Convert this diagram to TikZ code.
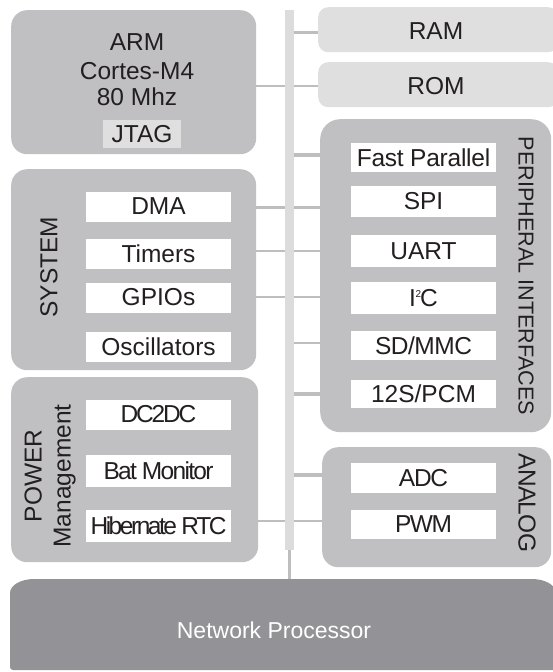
\documentclass[tikz,border=0pt]{standalone}
\usepackage{fontspec}
\setmainfont{Liberation Sans}
\begin{document}
\begin{tikzpicture}[x=1pt,y=1pt,
  txt/.style={text=textgray,font=\fontsize{24.5}{27}\selectfont,inner sep=0pt},
  group/.style={fill=groupgray,draw=none,rounded corners=16pt},
  mem/.style={fill=lightgray2,draw=none,rounded corners=10pt},
  item/.style={fill=white,draw=none,minimum width=145pt,minimum height=30pt,inner sep=0pt,text=textgray,font=\fontsize{24.5}{27}\selectfont},
  conn/.style={draw=linegray,line width=2pt},
  connthick/.style={draw=linegray,line width=3.5pt},
  vlabel/.style={text=textgray,font=\fontsize{24.5}{29}\selectfont,inner sep=0pt,align=center}]
\definecolor{textgray}{HTML}{231F20}
\definecolor{groupgray}{HTML}{C0C0C2}
\definecolor{lightgray2}{HTML}{DFDFE0}
\definecolor{linegray}{HTML}{BEBEBE}
\definecolor{busgray}{HTML}{DCDCDC}
\definecolor{netgray}{HTML}{939397}
\useasboundingbox (0,0) rectangle (553,-672);

% group containers
\node[group,anchor=north west,minimum width=245pt,minimum height=144pt] (arm) at (11,-10) {};
\node[group,anchor=north west,minimum width=245pt,minimum height=201pt] (system) at (11,-169) {};
\node[group,anchor=north west,minimum width=247pt,minimum height=185pt] (power) at (11,-377) {};
\node[mem,anchor=north west,minimum width=240pt,minimum height=45pt] (ram) at (318,-7) {};
\node[mem,anchor=north west,minimum width=240pt,minimum height=45pt] (rom) at (318,-62) {};
\node[group,rounded corners=20pt,anchor=north west,minimum width=231pt,minimum height=313pt] (periph) at (320,-119) {};
\node[group,anchor=north west,minimum width=229pt,minimum height=120pt] (analog) at (322,-447) {};

% connectors (drawn beneath the bus)
\coordinate (busbot) at (289.5,-550);
\draw[conn,line width=2.5pt] (arm.east |- 0,-86) -- (rom.west |- 0,-86);
\draw[connthick,line width=3pt] (294,-32) -- (ram.west |- 0,-32);
\draw[connthick] (294,-155) -- (periph.west |- 0,-155);
\draw[connthick,line width=3pt] (system.east |- 0,-207) -- (periph.west |- 0,-207);
\draw[conn] (system.east |- 0,-251) -- (periph.west |- 0,-251);
\draw[conn] (system.east |- 0,-297) -- (periph.west |- 0,-297);
\draw[conn] (294,-343) -- (periph.west |- 0,-343);
\draw[connthick] (294,-394) -- (periph.west |- 0,-394);
\draw[connthick] (294,-475) -- (analog.west |- 0,-475);
\draw[conn] (power.east |- 0,-521) -- (analog.west |- 0,-521);

% bus
\node[fill=busgray,draw=none,anchor=north west,minimum width=9pt,minimum height=540pt,inner sep=0pt] (bus) at (285,-10) {};

% network processor
\fill[netgray] (10,-667) -- (10,-593) arc[start angle=180,end angle=90,x radius=24,y radius=14]
  -- (532,-579) arc[start angle=90,end angle=0,x radius=24,y radius=14] -- (556,-670) -- (13,-670)
  arc[start angle=270,end angle=180,radius=3] -- cycle;
\coordinate (nettop) at (289.5,-579);
\draw[conn,line width=2.5pt] (busbot) -- (nettop);
\node[txt,text=white,font=\fontsize{23}{27}\selectfont] (net) at (274,-630) {Network Processor};

% ARM
\node[txt,anchor=base] (arm1) at (137,-50) {ARM};
\node[txt,anchor=base] (arm2) at (137,-79) {Cortes-M4};
\node[txt,anchor=base] (arm3) at (137,-105) {80 Mhz};
\node[fill=lightgray2,minimum width=78pt,minimum height=28pt,inner sep=0pt,text=textgray,font=\fontsize{24.5}{27}\selectfont] (jtag) at (142,-134) {JTAG};

% SYSTEM
\node[vlabel,rotate=90] (syslab) at (49,-267) {SYSTEM};
\node[item] (dma) at (158.5,-206.5) {DMA};
\node[item] (timers) at (158.5,-253.5) {Timers};
\node[item] (gpio) at (158.5,-297.5) {GPIOs};
\node[item] (osc) at (158.5,-346.5) {Oscillators};

% POWER
\node[vlabel,rotate=90] (powlab) at (50,-476) {POWER\\Management};
\node[item] (dc) at (158.5,-414.5) {\addfontfeature{LetterSpace=-9}DC2DC};
\node[item,minimum height=32pt] (bat) at (158.5,-471) {\addfontfeature{LetterSpace=-7}Bat Monitor};
\node[item,minimum height=32pt] (hib) at (158.5,-526) {\addfontfeature{LetterSpace=-10}Hibernate RTC};

% memories
\node[txt] (ramt) at (436,-31) {RAM};
\node[txt] (romt) at (436,-86) {ROM};

% peripheral interfaces
\node[vlabel,rotate=-90,font=\fontsize{21.6}{26}\selectfont] (perlab) at (526,-276) {PERIPHERAL INTERFACES};
\node[item,minimum height=29pt] (fp) at (423.5,-157.5) {\addfontfeature{LetterSpace=-1}Fast Parallel};
\node[item,minimum height=31pt] (spi) at (423.5,-201.5) {SPI};
\node[item,minimum height=32pt] (uart) at (423.5,-251) {UART};
\node[item,minimum height=32pt] (i2c) at (423.5,-298) {I\kern-0.5pt\raisebox{9pt}{\fontsize{10}{10}\selectfont 2}\kern-1pt C};
\node[item,minimum height=29pt] (sd) at (423.5,-345.5) {\addfontfeature{LetterSpace=-2}SD/MMC};
\node[item,minimum height=28pt] (pcm) at (423.5,-394) {12S/PCM};

% analog
\node[vlabel,rotate=-90] (anlab) at (527,-503) {\addfontfeature{LetterSpace=-3}ANALOG};
\node[item] (adc) at (423.5,-478) {\addfontfeature{LetterSpace=-5}ADC};
\node[item,minimum height=29pt] (pwm) at (423.5,-524.5) {\addfontfeature{LetterSpace=-6}PWM};
\end{tikzpicture}
\end{document}
